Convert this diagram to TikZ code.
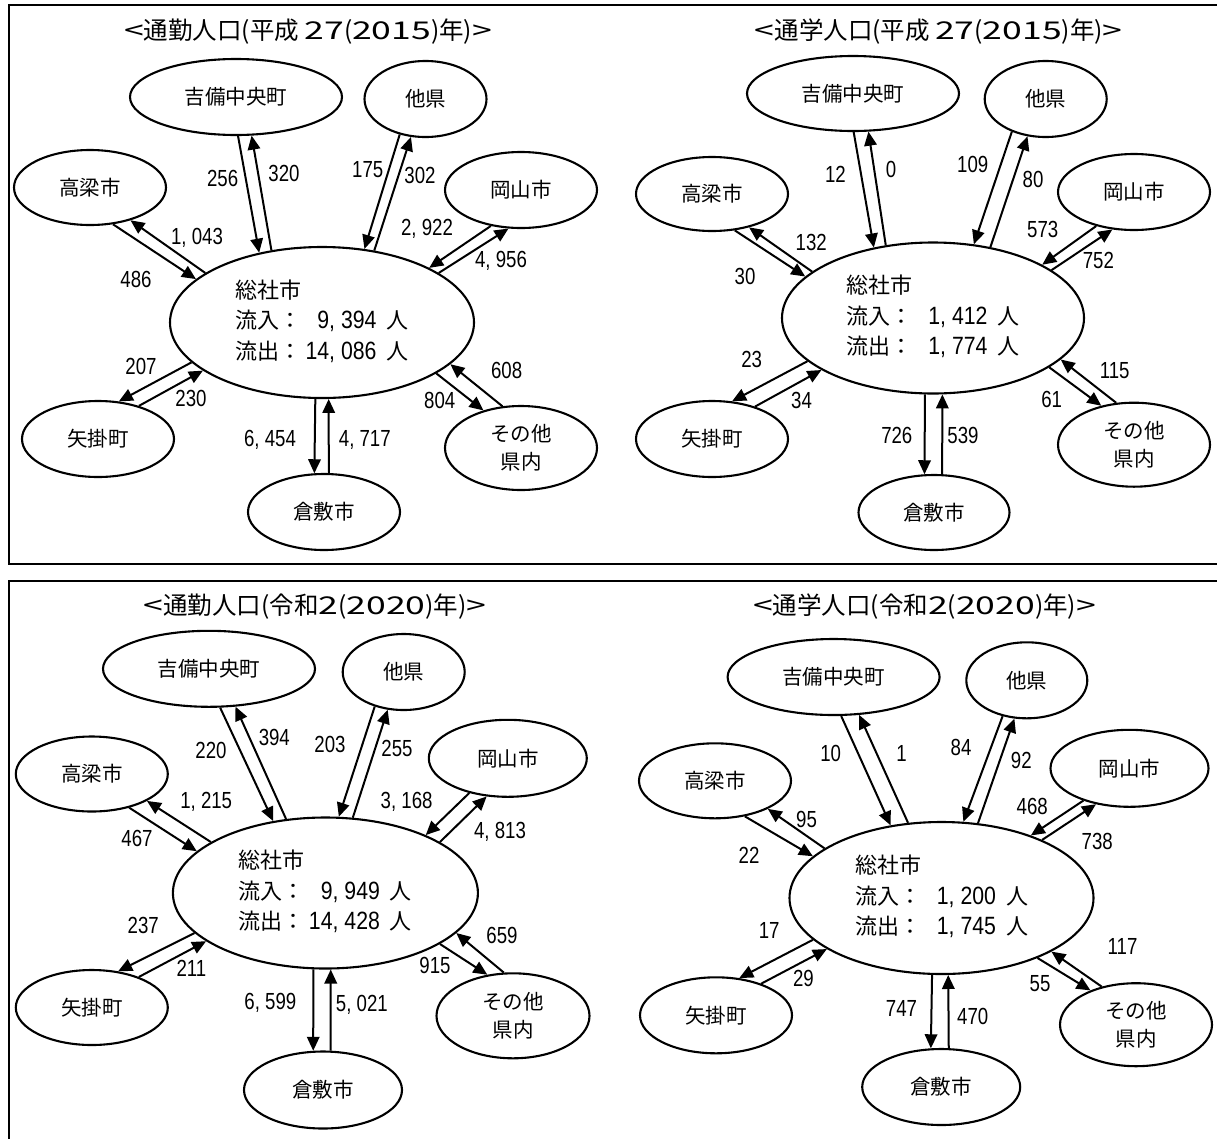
\documentclass[tikz,border=0pt]{standalone}
\usepackage{fontspec}
\setmainfont{Noto Sans CJK JP}
\newfontfamily\numf[FakeStretch=0.8]{Liberation Sans}
\newfontfamily\numcf[FakeStretch=0.85]{Liberation Sans}
\newfontfamily\widef[FakeStretch=1.45]{Noto Sans CJK JP}
\usetikzlibrary{shapes.geometric,arrows.meta}
\newcommand\cm{\rlap{,}\phantom{0}}
\newcommand\tw[1]{{\widef #1}}
\newcommand\hubtext[2]{\begin{tabular}{@{}l@{}}総社市\\流入：\makebox[75pt][r]{\fontsize{25}{30.5}\numcf #1}\hspace{10pt}人\\流出：\makebox[75pt][r]{\fontsize{25}{30.5}\numcf #2}\hspace{10pt}人\end{tabular}}
% connector from node #1 (border point toward (#2,#3)) to node #4 (border point toward (#5,#6))
\newcommand\fl[6]{%
  \pgfpointanchor{#1}{center}\pgfgetlastxy\flax\flay
  \pgfpointanchor{#4}{center}\pgfgetlastxy\flbx\flby
  \pgfmathsetmacro\flA{atan2(-(#3)-(\flay),(#2)-(\flax))}%
  \pgfmathsetmacro\flB{atan2(-(#6)-(\flby),(#5)-(\flbx))}%
  \draw[flow] (#1.\flA) -- (#4.\flB);}
\tikzset{
  place/.style={ellipse, draw, line width=2.1pt, inner sep=0pt, align=center, font=\fontsize{20.5}{28}\selectfont},
  hub/.style={ellipse, draw, line width=2.1pt, inner sep=0pt, font=\fontsize{22}{30.5}\selectfont},
  sz/.style 2 args={minimum width=#1pt, minimum height=#2pt},
  flow/.style={line width=2pt, -{Triangle[length=14pt,width=12.5pt]}},
  lab/.style={inner sep=0pt, font=\fontsize{23.3}{26}\numf},
  ttl/.style={inner sep=0pt, font=\fontsize{24.5}{28}\selectfont},
  frame/.style={line width=2.6pt},
}
\begin{document}
\begin{tikzpicture}[x=1pt,y=-1pt]
\useasboundingbox (0,0) rectangle (1217,1138);
\draw[frame] (1225,5) -- (9,5) -- (9,564) -- (1225,564);
\draw[frame] (1225,581) -- (9,581) -- (9,1145);

% ---------- Panel A ----------
\node[ttl] (ttlA) at (308,32) {\tw{<}通勤人口(平成 \tw{27}(\tw{2015})年)\tw{>}};
\node[place, sz={212}{76}] (kA) at (236,97) {吉備中央町};
\node[place, sz={122}{76}] (tA) at (425.5,99) {他県};
\node[place, sz={152}{75}] (hA) at (90,187.5) {高梁市};
\node[place, sz={152}{76}] (oA) at (521,190) {岡山市};
\node[hub, sz={304}{151}] (cA) at (322,322.5) {\hubtext{9\cm394}{14\cm086}};
\node[place, sz={152}{76}] (yA) at (98,439) {矢掛町};
\node[place, sz={152}{76}] (rA) at (324,512) {倉敷市};
\node[place, sz={152}{84}] (sA) at (521,448) {その他\\県内};
\fl{kA}{237.4}{135}{cA}{258.8}{253}
\fl{cA}{270.4}{250.7}{kA}{251}{136}
\fl{tA}{398.8}{135}{cA}{363.8}{248}
\fl{cA}{373.5}{251}{tA}{410.5}{137}
\fl{hA}{112.8}{224}{cA}{192.6}{280}
\fl{cA}{204}{274}{hA}{130}{220}
\fl{oA}{491}{225}{cA}{426}{268}
\fl{cA}{437.7}{273}{oA}{507.8}{229}
\fl{cA}{188.7}{361.7}{yA}{120.6}{398}
\fl{yA}{138}{406}{cA}{198.4}{370}
\fl{cA}{314.4}{401.7}{rA}{314.4}{474}
\fl{rA}{328}{474}{cA}{328}{400.7}
\fl{cA}{436.6}{374}{sA}{482.5}{410}
\fl{sA}{502}{406}{cA}{449.4}{364}
\node[lab] (a1) at (222.6,178) {256};
\node[lab] (a2) at (284,173) {320};
\node[lab] (a3) at (367.7,170) {175};
\node[lab] (a4) at (420,175) {302};
\node[lab] (a5) at (197,238) {1\cm043};
\node[lab] (a6) at (136,279) {486};
\node[lab] (a7) at (427,229) {2\cm922};
\node[lab] (a8) at (501,261) {4\cm956};
\node[lab] (a9) at (141,366) {207};
\node[lab] (a10) at (191,398) {230};
\node[lab] (a11) at (270,440) {6\cm454};
\node[lab] (a12) at (364.8,440) {4\cm717};
\node[lab] (a13) at (506.6,370.7) {608};
\node[lab] (a14) at (439.7,400.7) {804};

% ---------- Panel B ----------
\node[ttl] (ttlB) at (938.7,32) {\tw{<}通学人口(平成 \tw{27}(\tw{2015})年)\tw{>}};
\node[place, sz={212}{75}] (kB) at (853,93.5) {吉備中央町};
\node[place, sz={122}{76}] (tB) at (1045.7,99) {他県};
\node[place, sz={152}{74}] (hB) at (712,194) {高梁市};
\node[place, sz={152}{76}] (oB) at (1134,192) {岡山市};
\node[hub, sz={302}{151}] (cB) at (933,318) {\hubtext{1\cm412}{1\cm774}};
\node[place, sz={152}{76}] (yB) at (712,439) {矢掛町};
\node[place, sz={151}{75}] (rB) at (934,512.5) {倉敷市};
\node[place, sz={152}{84}] (sB) at (1134,444.7) {その他\\県内};
\fl{kB}{853.2}{133.3}{cB}{873.5}{249.3}
\fl{cB}{887}{247.3}{kB}{869.6}{135}
\fl{tB}{1011.6}{131.7}{cB}{974.6}{242.7}
\fl{cB}{988.3}{247.3}{tB}{1027.2}{136}
\fl{hB}{735.4}{231.7}{cB}{797.6}{276}
\fl{cB}{811.2}{271.7}{hB}{751}{229.3}
\fl{oB}{1095.3}{226.7}{cB}{1038.9}{265}
\fl{cB}{1050.5}{268.3}{oB}{1110.8}{231.7}
\fl{cB}{805.4}{360.7}{yB}{733.4}{398.3}
\fl{yB}{754.8}{406}{cB}{818.2}{370}
\fl{cB}{924}{394}{rB}{924}{474}
\fl{rB}{941.6}{474}{cB}{941.6}{395}
\fl{cB}{1048.6}{368.3}{sB}{1100}{405}
\fl{sB}{1115.5}{402.7}{cB}{1061}{361.7}
\node[lab] (b1) at (835.4,174.3) {12};
\node[lab] (b2) at (891,169.3) {0};
\node[lab] (b3) at (972.7,164) {109};
\node[lab] (b4) at (1033,179.3) {80};
\node[lab] (b5) at (811.2,242.7) {132};
\node[lab] (b6) at (745,276) {30};
\node[lab] (b7) at (1042.7,229.3) {573};
\node[lab] (b8) at (1098.4,260.7) {752};
\node[lab] (b9) at (751.7,359.3) {23};
\node[lab] (b10) at (801.5,400.7) {34};
\node[lab] (b11) at (896.8,435) {726};
\node[lab] (b12) at (963,435) {539};
\node[lab] (b13) at (1114.7,370.7) {115};
\node[lab] (b14) at (1051.7,399.3) {61};

% ---------- Panel C ----------
\node[ttl] (ttlC) at (315,606.7) {\tw{<}通勤人口(令和\tw{2}(\tw{2020})年)\tw{>}};
\node[place, sz={212}{76}] (kC) at (209,668.8) {吉備中央町};
\node[place, sz={122}{76}] (tC) at (403.7,672) {他県};
\node[place, sz={152}{75}] (hC) at (91.8,774) {高梁市};
\node[place, sz={158}{77}] (oC) at (507.8,758.3) {岡山市};
\node[hub, sz={305}{151}] (cC) at (325.4,893) {\hubtext{9\cm949}{14\cm428}};
\node[place, sz={152}{75}] (yC) at (91.8,1007.5) {矢掛町};
\node[place, sz={158}{77}] (rC) at (323,1090) {倉敷市};
\node[place, sz={153}{85}] (sC) at (513,1015.8) {その他\\県内};
\fl{kC}{219.8}{706.7}{cC}{270.4}{817.7}
\fl{cC}{286}{819}{kC}{233.5}{705}
\fl{tC}{373.5}{707.7}{cC}{338.5}{816.7}
\fl{cC}{352}{817.7}{tC}{387}{710}
\fl{hC}{128.4}{807.7}{cC}{192.6}{851.7}
\fl{cC}{206.2}{841}{hC}{146}{801}
\fl{oC}{468.9}{793.3}{cC}{426}{834.3}
\fl{cC}{439.7}{840}{oC}{486.4}{796.7}
\fl{cC}{192.6}{931.7}{yC}{118.7}{970}
\fl{yC}{140}{976}{cC}{203}{940}
\fl{cC}{313.2}{970}{rC}{313.2}{1051.7}
\fl{rC}{330}{1051.7}{cC}{330}{969.3}
\fl{cC}{441.6}{945}{sC}{487.2}{976}
\fl{sC}{503.9}{974}{cC}{452}{934}
\node[lab] (c1) at (211,750) {220};
\node[lab] (c2) at (274.3,737.7) {394};
\node[lab] (c3) at (330,744.3) {203};
\node[lab] (c4) at (397,748.3) {255};
\node[lab] (c5) at (206.2,802.3) {1\cm215};
\node[lab] (c6) at (137,838.3) {467};
\node[lab] (c7) at (406.6,801.7) {3\cm168};
\node[lab] (c8) at (500,831.7) {4\cm813};
\node[lab] (c9) at (143.2,925) {237};
\node[lab] (c10) at (191.4,968.3) {211};
\node[lab] (c11) at (270.4,1003.3) {6\cm599};
\node[lab] (c12) at (361.9,1005) {5\cm021};
\node[lab] (c13) at (502,935) {659};
\node[lab] (c14) at (435,965) {915};

% ---------- Panel D ----------
\node[ttl] (ttlD) at (924.5,606.7) {\tw{<}通学人口(令和\tw{2}(\tw{2020})年)\tw{>}};
\node[place, sz={212}{76}] (kD) at (833.6,677) {吉備中央町};
\node[place, sz={121}{76}] (tD) at (1026.8,680.3) {他県};
\node[place, sz={152}{75}] (hD) at (715,780.8) {高梁市};
\node[place, sz={158}{77}] (oD) at (1129.5,768.3) {岡山市};
\node[hub, sz={304}{152}] (cD) at (941.5,898) {\hubtext{1\cm200}{1\cm745}};
\node[place, sz={152}{76}] (yD) at (716,1015.3) {矢掛町};
\node[place, sz={158}{76}] (rD) at (941.2,1087) {倉敷市};
\node[place, sz={152}{83}] (sD) at (1136,1024.7) {その他\\県内};
\fl{kD}{840.4}{715}{cD}{891}{826.7}
\fl{cD}{907.7}{823.3}{kD}{859.9}{716.7}
\fl{tD}{1001.9}{716.7}{cD}{962.2}{821.7}
\fl{cD}{976.6}{823.3}{tD}{1013.6}{719}
\fl{hD}{745}{816.7}{cD}{807.3}{855}
\fl{cD}{823}{849}{hD}{765.3}{808.3}
\fl{oD}{1081.7}{801}{cD}{1027.2}{836.7}
\fl{cD}{1038.8}{840}{oD}{1093.3}{806.7}
\fl{cD}{811.2}{940}{yD}{738}{979.3}
\fl{yD}{760.6}{984}{cD}{824.8}{949.3}
\fl{cD}{931}{974}{rD}{931}{1050}
\fl{rD}{948.2}{1050}{cD}{948.2}{975}
\fl{cD}{1037.7}{959.3}{sD}{1089.4}{990}
\fl{sD}{1101}{986}{cD}{1048.6}{950.7}
\node[lab] (d1) at (830.7,753.3) {10};
\node[lab] (d2) at (901.5,753.3) {1};
\node[lab] (d3) at (961,747.7) {84};
\node[lab] (d4) at (1021.3,760) {92};
\node[lab] (d5) at (806.6,819) {95};
\node[lab] (d6) at (749,855) {22};
\node[lab] (d7) at (1032.2,806.7) {468};
\node[lab] (d8) at (1097.2,841) {738};
\node[lab] (d9) at (769.2,930.7) {17};
\node[lab] (d10) at (803.4,978.3) {29};
\node[lab] (d11) at (901.5,1008.3) {747};
\node[lab] (d12) at (972.7,1016) {470};
\node[lab] (d13) at (1122.5,946.7) {117};
\node[lab] (d14) at (1040,984) {55};
\end{tikzpicture}
\end{document}
